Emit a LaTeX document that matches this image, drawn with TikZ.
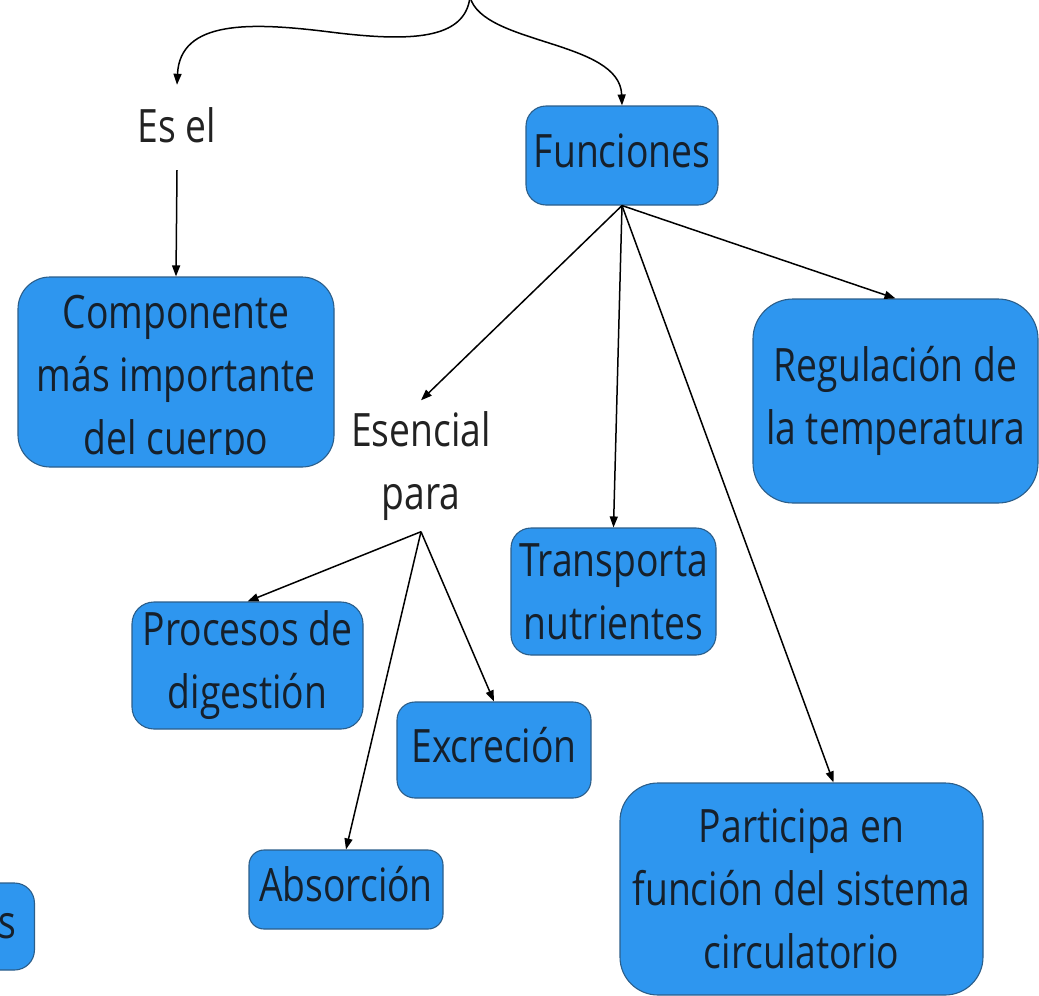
\documentclass[tikz,border=0pt]{standalone}
\usepackage{fontspec}
\setmainfont{Open Sans}[FakeStretch=0.81]
\usetikzlibrary{arrows.meta}
\definecolor{boxfill}{HTML}{2E96EF}
\definecolor{boxline}{HTML}{2B5E8A}
\definecolor{ink}{HTML}{16202B}
\definecolor{lblink}{HTML}{222222}
\begin{document}
\begin{tikzpicture}[x=1pt,y=-1pt,
  box/.style={draw=boxline, line width=1.1pt, fill=boxfill, text=ink, align=center,
    inner sep=0pt, font=\fontsize{46}{63}\selectfont},
  oneline/.style={text height=34pt, text depth=10pt},
  lbl/.style={text=lblink, align=center, inner sep=0pt, font=\fontsize{46}{63}\selectfont},
  conn/.style={line width=1.5pt, draw=black, -{Triangle[length=11pt,width=8pt]}}
]
\useasboundingbox (0,0) rectangle (1039,996);

% boxes
\node[box, oneline, minimum width=192pt, minimum height=99pt, rounded corners=20pt] (func) at (622,155.5) {Funciones};
\node[box, minimum width=316pt, minimum height=190pt, rounded corners=32pt] (comp) at (176,372) {};
\begin{scope}
  \clip (18,270) rectangle (334,454);
  \node[box, draw=none, fill=none] (compt) at (176,380) {Componente\\más importante\\del cuerpo};
\end{scope}
\node[box, minimum width=285pt, minimum height=204pt, rounded corners=40pt] (regul) at (895.5,401) {Regulación de\\la temperatura};
\node[box, minimum width=205pt, minimum height=127pt, rounded corners=20pt] (transp) at (613.5,591.5) {Transporta\\nutrientes};
\node[box, minimum width=363pt, minimum height=212pt, rounded corners=38pt] (part) at (801.5,889) {Participa en\\función del sistema\\circulatorio};
\node[box, minimum width=231pt, minimum height=127pt, rounded corners=22pt] (proc) at (247.5,665.5) {Procesos de\\digestión};
\node[box, oneline, minimum width=194pt, minimum height=96pt, rounded corners=18pt] (excr) at (494,750) {Excreción};
\node[box, oneline, minimum width=194pt, minimum height=79pt, rounded corners=15pt] (absor) at (346,889.5) {Absorción};
\node[box, anchor=east, minimum height=87pt, text width=60pt, align=right, inner xsep=18pt, rounded corners=20pt] (cut) at (35,926.5) {s};

% labels
\node[lbl, anchor=base, text height=57pt, text depth=28pt] (esel) at (177,142) {Es el};
\node[lbl, inner ysep=11pt] (esen) at (421,466) {Esencial\\para};

% top source
\coordinate (src) at (470,-3);

% connectors
\draw[conn] (src) .. controls (465,40) and (410,42) .. (330,32) .. controls (250,22) and (180,20) .. (esel.north);
\draw[conn] (src) .. controls (483,45) and (620,40) .. (func.north);
\draw[conn] (esel.south) -- (comp.north);
\draw[conn] (func.south) -- (esen.north);
\draw[conn] (func.south) -- (transp.north);
\draw[conn] (func.south) -- ([xshift=32pt]part.north);
\draw[conn] (func.south) -- (regul.north);
\draw[conn] (esen.south) -- (proc.north);
\draw[conn] (esen.south) -- (absor.north);
\draw[conn] (esen.south) -- (excr.north);
\end{tikzpicture}
\end{document}
